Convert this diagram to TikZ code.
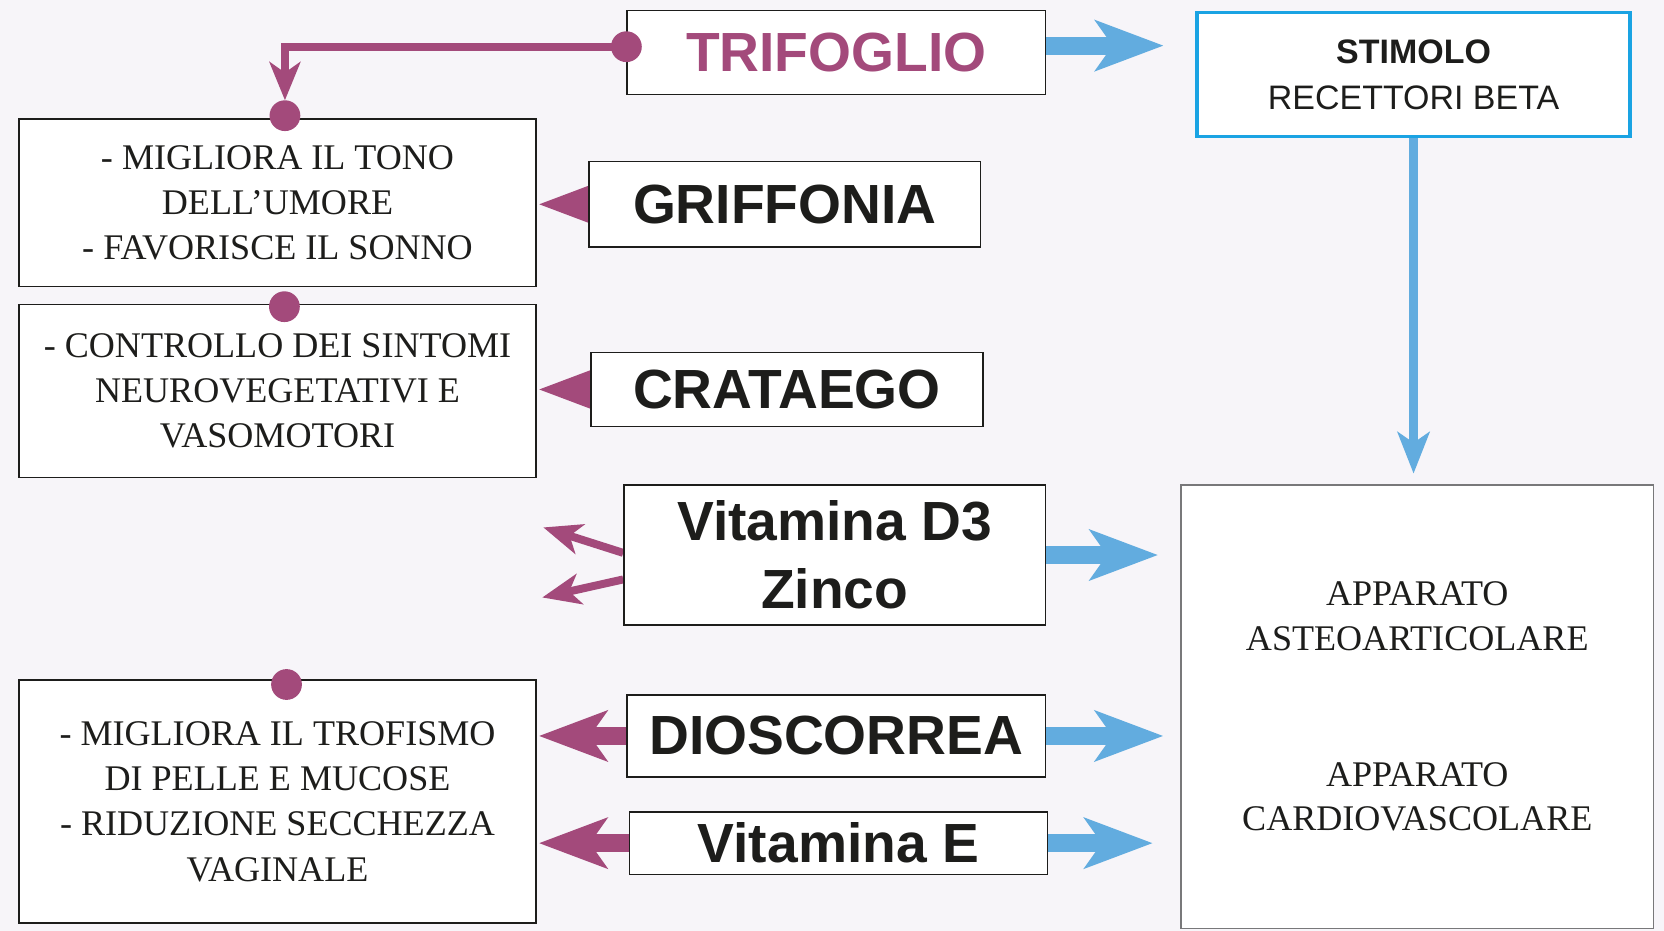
\documentclass[tikz,border=0pt]{standalone}
\usepackage{fontspec}
\setmainfont{Liberation Serif}
\setsansfont{Liberation Sans}
\usetikzlibrary{arrows.meta,positioning,calc}
\pgfdeclarelayer{background}
\pgfsetlayers{background,main}
\definecolor{mag}{RGB}{163,74,123}
\definecolor{sky}{RGB}{98,172,223}
\definecolor{cyanline}{RGB}{26,163,227}
\definecolor{paper}{RGB}{247,245,249}
\definecolor{ink}{RGB}{29,29,27}
\definecolor{frame}{RGB}{120,120,122}

\tikzset{
  box/.style={draw=ink, fill=white, line width=0.75pt, inner sep=0pt, align=center, text=ink},
  herb/.style={box, font=\sffamily\bfseries\fontsize{26}{32}\selectfont},
  effect/.style={box, minimum width=243.5pt, font=\fontsize{17}{21.25}\selectfont},
  dot/.style={circle, fill=mag, inner sep=0pt, minimum size=14.5pt},
  fat/.style={line width=8.5pt, -{Stealth[length=32pt,width=23.5pt,inset=8pt]}},
  slim/.style={line width=3.75pt, -{Stealth[length=18pt,width=14.5pt,inset=5pt]}},
}

\begin{document}
\begin{tikzpicture}[x=0.5pt,y=-0.5pt]
  \useasboundingbox (0,0) rectangle (1568,877);

  % plants and vitamins
  \node[herb, text=mag, minimum width=197pt, minimum height=39.5pt] (trif) at (788,49.5) {TRIFOGLIO};
  \node[herb, minimum width=184.5pt, minimum height=40.5pt] (griff) at (739.5,192.5) {GRIFFONIA};
  \node[herb, minimum width=184.5pt, minimum height=35pt] (crat) at (741.5,367) {CRATAEGO};
  \node[herb, minimum width=198.5pt, minimum height=66pt] (vitd) at (786.5,523) {Vitamina D3\\Zinco};
  \node[herb, minimum width=197pt, minimum height=38.5pt] (dios) at (788,693.5) {DIOSCORREA};
  \node[herb, minimum width=197pt, minimum height=29.5pt] (vite) at (790,794.5) {Vitamina E};

  % effects
  \node[effect, minimum height=79pt] (umore) at (261.5,191) {- MIGLIORA IL TONO\\DELL'UMORE\\- FAVORISCE IL SONNO};
  \node[effect, minimum height=81.5pt] (sintomi) at (261.5,368.5) {- CONTROLLO DEI SINTOMI\\NEUROVEGETATIVI E\\VASOMOTORI};
  \node[effect, minimum height=114.5pt] (trofismo) at (261.5,755.5) {- MIGLIORA IL TROFISMO\\DI PELLE E MUCOSE\\- RIDUZIONE SECCHEZZA\\VAGINALE};

  \node[box, draw=cyanline, line width=1.5pt, minimum width=204pt, minimum height=58.5pt,
        font=\sffamily\fontsize{16}{21.5}\selectfont] (stim) at (1332,70.5) {\textbf{STIMOLO}\\RECETTORI BETA};
  \node[box, draw=frame, minimum width=222.5pt, minimum height=209pt,
        font=\fontsize{17}{21}\selectfont] (appar) at (1335.5,666)
        {APPARATO\\ASTEOARTICOLARE\\[43pt]APPARATO\\CARDIOVASCOLARE};

  % dots
  \node[dot] (d0) at ([yshift=2.75pt]trif.west) {};
  \node[dot] (d1) at (268.5,109) {};
  \node[dot] (d2) at (268,289) {};
  \node[dot] (d3) at (270,645) {};

  \coordinate (t1) at ([yshift=3.25pt]trif.east);
  \coordinate (v1) at (512,497);
  \coordinate (v2) at (511,563);

  \begin{pgfonlayer}{background}
    \fill[paper] (0,0) rectangle (1568,877);
    % blue side
    \draw[sky, fat, shorten >=15pt] (t1) -- (t1 -| stim.west);
    \draw[sky, line width=4pt, -{Stealth[length=19.5pt,width=15pt,inset=5pt]}, shorten >=5pt]
      (stim.south) -- (stim.south |- appar.north);
    \draw[sky, fat, shorten >=10.5pt] (vitd.east) -- (vitd.east -| appar.west);
    \draw[sky, fat, shorten >=8pt] (dios.east) -- (dios.east -| appar.west);
    \draw[sky, fat, shorten >=13pt] (vite.east) -- (vite.east -| appar.west);
    % magenta side
    \draw[mag, slim, line join=miter, shorten >=7.25pt] (d0.center) -- (d0.center -| d1) -- (d1.center);
    \draw[mag, fat, shorten <=-20pt, shorten >=1pt] (griff.west) -- (griff.west -| umore.east);
    \draw[mag, fat, shorten <=-20pt, shorten >=1pt] (crat.west) -- (crat.west -| sintomi.east);
    \draw[mag, slim] ([yshift=1pt]vitd.west) -- (v1);
    \draw[mag, slim] ([yshift=-11.5pt]vitd.west) -- (v2);
    \draw[mag, fat, shorten >=1pt] (dios.west) -- (dios.west -| trofismo.east);
    \draw[mag, fat, shorten >=1pt] (vite.west) -- (vite.west -| trofismo.east);
  \end{pgfonlayer}
\end{tikzpicture}
\end{document}
